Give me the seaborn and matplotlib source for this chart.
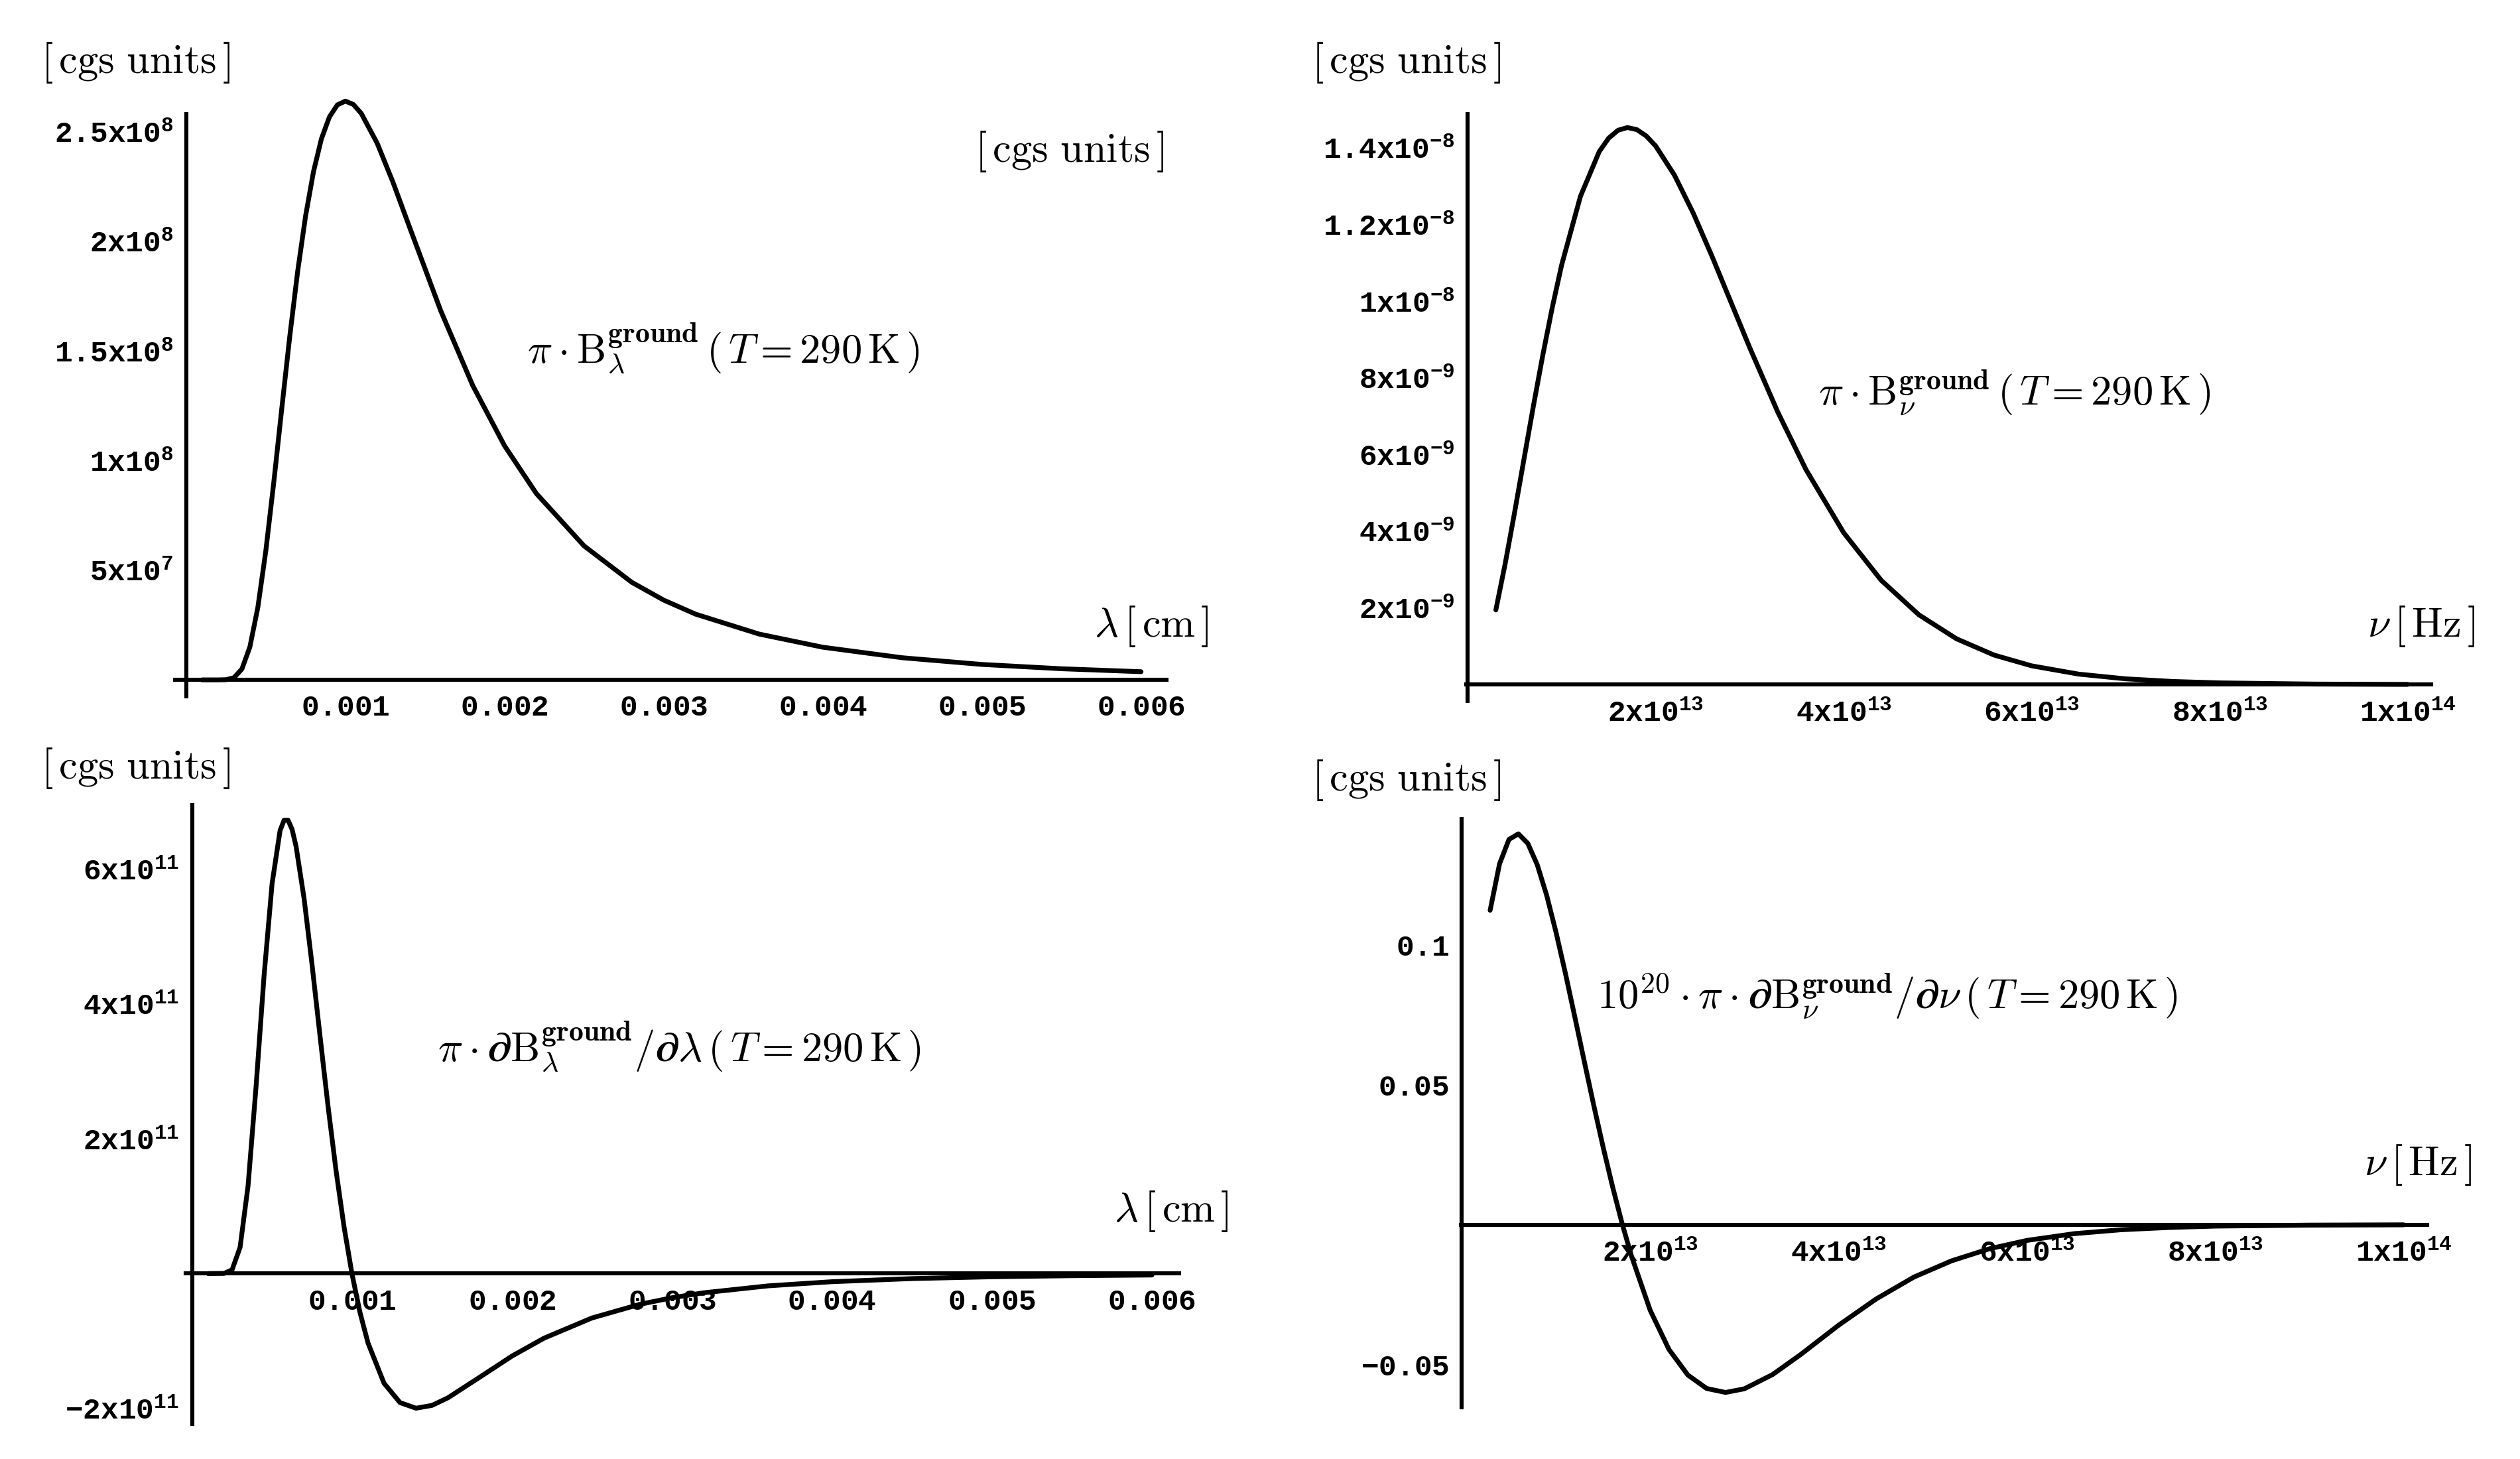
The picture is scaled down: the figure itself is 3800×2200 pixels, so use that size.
import matplotlib
matplotlib.use("Agg")
import matplotlib.pyplot as plt
import numpy as np
import pandas as pd
import seaborn as sns
from matplotlib.ticker import FixedLocator

# ---------------- data ----------------
# Panel 1: pi*B_lambda (T=290 K) vs wavelength [cm]
lam_1 = [0.0001, 0.0002, 0.00025, 0.0003, 0.00035, 0.0004, 0.00045, 0.0005, 0.00055,
         0.0006, 0.00065, 0.0007, 0.00075, 0.0008, 0.00085, 0.0009, 0.00095, 0.001,
         0.00105, 0.0011, 0.0012, 0.0013, 0.0014, 0.0016, 0.0018, 0.002, 0.0022,
         0.0025, 0.0028, 0.003, 0.0032, 0.0036, 0.004, 0.0045, 0.005, 0.0055, 0.006]
B_lam = [0.0, 2.0e3, 9.2e4, 1.01e6, 4.97e6, 1.50e7, 3.30e7, 5.87e7, 8.99e7,
         1.234e8, 1.562e8, 1.861e8, 2.115e8, 2.318e8, 2.468e8, 2.567e8, 2.622e8, 2.639e8,
         2.624e8, 2.583e8, 2.447e8, 2.268e8, 2.071e8, 1.682e8, 1.343e8, 1.068e8, 8.50e7,
         6.11e7, 4.45e7, 3.64e7, 3.00e7, 2.09e7, 1.49e7, 1.01e7, 7.05e6, 5.08e6, 3.74e6]

# Panel 2: pi*B_nu (T=290 K) vs frequency [Hz]
nu_2 = [0.3e13, 0.4e13, 0.5e13, 0.6e13, 0.7e13, 0.8e13, 0.9e13, 1.0e13, 1.2e13, 1.4e13,
        1.5e13, 1.6e13, 1.7e13, 1.8e13, 1.9e13, 2.0e13, 2.2e13, 2.4e13, 2.6e13, 2.8e13,
        3.0e13, 3.3e13, 3.6e13, 4.0e13, 4.4e13, 4.8e13, 5.2e13, 5.6e13, 6.0e13, 6.5e13,
        7.0e13, 7.5e13, 8.0e13, 9.0e13, 1.0e14]
B_nu = [1.945e-9, 3.159e-9, 4.497e-9, 5.889e-9, 7.272e-9, 8.599e-9, 9.832e-9, 1.0944e-8,
        1.2735e-8, 1.3901e-8, 1.4252e-8, 1.4458e-8, 1.4528e-8, 1.4474e-8, 1.4309e-8,
        1.4048e-8, 1.3287e-8, 1.2296e-8, 1.1168e-8, 9.979e-9, 8.791e-9, 7.103e-9,
        5.603e-9, 3.960e-9, 2.717e-9, 1.819e-9, 1.193e-9, 7.68e-10, 4.87e-10, 2.71e-10,
        1.48e-10, 7.95e-11, 4.22e-11, 1.15e-11, 3.0e-12]

# Panel 3: pi*dB_lambda/dlambda (T=290 K)
lam_3 = [0.0001, 0.0002, 0.00025, 0.0003, 0.00035, 0.0004, 0.00045, 0.0005, 0.00055,
         0.000575, 0.0006, 0.000625, 0.00065, 0.0007, 0.00075, 0.0008, 0.00085, 0.0009,
         0.00095, 0.001, 0.00105, 0.0011, 0.0012, 0.0013, 0.0014, 0.0015, 0.0016, 0.0018,
         0.002, 0.0022, 0.0025, 0.0028, 0.003, 0.0032, 0.0036, 0.004, 0.0045, 0.005,
         0.0055, 0.006]
dB_lam = [0.0, 0.002e11, 0.055e11, 0.389e11, 1.304e11, 2.776e11, 4.421e11, 5.783e11,
          6.572e11, 6.726e11, 6.726e11, 6.591e11, 6.338e11, 5.567e11, 4.581e11, 3.519e11,
          2.480e11, 1.526e11, 0.692e11, -0.010e11, -0.581e11, -1.032e11, -1.628e11,
          -1.915e11, -1.998e11, -1.956e11, -1.843e11, -1.535e11, -1.224e11, -0.959e11,
          -0.659e11, -0.456e11, -0.359e11, -0.285e11, -0.183e11, -0.121e11, -0.075e11,
          -0.048e11, -0.032e11, -0.022e11]

# Panel 4: 1e20 * pi*dB_nu/dnu (T=290 K)
nu_4 = [0.3e13, 0.4e13, 0.5e13, 0.6e13, 0.7e13, 0.8e13, 0.9e13, 1.0e13, 1.1e13, 1.2e13,
        1.3e13, 1.4e13, 1.5e13, 1.6e13, 1.7e13, 1.8e13, 2.0e13, 2.2e13, 2.4e13, 2.6e13,
        2.8e13, 3.0e13, 3.3e13, 3.6e13, 4.0e13, 4.4e13, 4.8e13, 5.2e13, 5.6e13, 6.0e13,
        6.5e13, 7.0e13, 7.5e13, 8.0e13, 9.0e13, 1.0e14]
dB_nu = [0.1123, 0.1289, 0.1376, 0.1396, 0.1362, 0.1286, 0.1177, 0.1044, 0.0897, 0.0741,
         0.0583, 0.0427, 0.0277, 0.0136, 0.0006, -0.0111, -0.0306, -0.0446, -0.0537,
         -0.0585, -0.0599, -0.0586, -0.0535, -0.0463, -0.0359, -0.0265, -0.0187, -0.0129,
         -0.0086, -0.0056, -0.0032, -0.0018, -0.0010, -0.0005, -0.00015, -0.00004]

# tick values / labels
x1_ticks = [0.001, 0.002, 0.003, 0.004, 0.005, 0.006]
x1_labels = ["0.001", "0.002", "0.003", "0.004", "0.005", "0.006"]
y1_ticks = [5e7, 1e8, 1.5e8, 2e8, 2.5e8]
y1_labels = ["5x10^{7}", "1x10^{8}", "1.5x10^{8}", "2x10^{8}", "2.5x10^{8}"]

x2_ticks = [2e13, 4e13, 6e13, 8e13, 1e14]
x2_labels = ["2x10^{13}", "4x10^{13}", "6x10^{13}", "8x10^{13}", "1x10^{14}"]
y2_ticks = [2e-9, 4e-9, 6e-9, 8e-9, 1e-8, 1.2e-8, 1.4e-8]
y2_labels = ["2x10^{-9}", "4x10^{-9}", "6x10^{-9}", "8x10^{-9}", "1x10^{-8}",
             "1.2x10^{-8}", "1.4x10^{-8}"]

y3_ticks = [-2e11, 2e11, 4e11, 6e11]
y3_labels = ["-2x10^{11}", "2x10^{11}", "4x10^{11}", "6x10^{11}"]

y4_ticks = [-0.05, 0.05, 0.1]
y4_labels = ["-0.05", "0.05", "0.1"]

# ---------------- style ----------------
sns.set_style("white")
plt.rcParams.update({
    "font.family": ["Liberation Mono", "DejaVu Sans"],
    "font.weight": "bold",
    "mathtext.fontset": "custom",
    "mathtext.rm": "Liberation Mono:bold",
    "mathtext.bf": "Liberation Mono:bold",
    "mathtext.it": "Liberation Mono:bold",
    "mathtext.sf": "Liberation Mono:bold",
    "axes.edgecolor": "black",
    "xtick.color": "black",
    "ytick.color": "black",
})

W, H = 3800, 2200
fig = plt.figure(figsize=(19, 11), dpi=200)
fig.patch.set_facecolor("white")

TICK_FS = 16
TXT_FS = 22.5


def px_box(left, top, right, bottom):
    return [left / W, 1 - bottom / H, (right - left) / W, (bottom - top) / H]


def minor_positions(lo, hi, step, exclude):
    vals = []
    k = int(np.ceil(lo / step))
    while k * step <= hi + 1e-12 * abs(hi):
        v = k * step
        if abs(v) > step * 1e-6 and all(abs(v - e) > step * 1e-3 for e in exclude):
            vals.append(v)
        k += 1
    return vals


def style_axes(ax, xlim, ylim, xt, xl, xstep, yt, yl, ystep):
    ax.set_xlim(*xlim)
    ax.set_ylim(*ylim)
    ax.set_facecolor("white")
    ax.grid(False)
    for s in ("top", "right"):
        ax.spines[s].set_visible(False)
    ax.spines["left"].set_position(("data", 0))
    ax.spines["bottom"].set_position(("data", 0))
    for s in ("left", "bottom"):
        ax.spines[s].set_linewidth(2.2)
        ax.spines[s].set_color("black")
    ax.xaxis.set_major_locator(FixedLocator(xt))
    ax.yaxis.set_major_locator(FixedLocator(yt))
    ax.set_xticklabels([r"$\mathbf{%s}$" % s for s in xl])
    ax.set_yticklabels([r"$\mathbf{%s}$" % s for s in yl])
    ax.xaxis.set_minor_locator(FixedLocator(minor_positions(xlim[0], xlim[1], xstep, xt)))
    ax.yaxis.set_minor_locator(FixedLocator(minor_positions(ylim[0], ylim[1], ystep, yt)))
    ax.tick_params(axis="both", which="both", direction="in", width=1.5,
                   labelsize=TICK_FS)
    ax.tick_params(axis="y", which="major", length=4.0, pad=7)
    ax.tick_params(axis="y", which="minor", length=3.2)
    ax.tick_params(axis="x", which="major", length=3.6, pad=8)
    ax.tick_params(axis="x", which="minor", length=2.3)
    ax.set_xlabel("")
    ax.set_ylabel("")


def curve(ax, x, y):
    df = pd.DataFrame({"x": x, "y": y})
    sns.lineplot(data=df, x="x", y="y", ax=ax, color="black", linewidth=2.6,
                 sort=False, estimator=None, clip_on=False)


def ftext(xpx, ypx, s):
    fig.text(xpx / W, 1 - ypx / H, s, ha="left", va="center", fontsize=TXT_FS,
             math_fontfamily="cm", color="black")


# Panel 1
ax1 = fig.add_axes(px_box(264, 172, 1759, 1050))
curve(ax1, lam_1, B_lam)
style_axes(ax1, (-0.00007, 0.00616), (-0.75e7, 2.58e8), x1_ticks, x1_labels, 0.0002,
           y1_ticks, y1_labels, 1e7)

# Panel 2
ax2 = fig.add_axes(px_box(2211, 172, 3666, 1057))
curve(ax2, nu_2, B_nu)
style_axes(ax2, (-0.015e13, 1.025e14), (-0.43e-9, 1.488e-8), x2_ticks, x2_labels, 0.5e13,
           y2_ticks, y2_labels, 5e-10)

# Panel 3
ax3 = fig.add_axes(px_box(280, 1214, 1778, 2147))
curve(ax3, lam_3, dB_lam)
style_axes(ax3, (-0.00004, 0.00617), (-2.23e11, 6.95e11), x1_ticks, x1_labels, 0.0002,
           y3_ticks, y3_labels, 5e10)

# Panel 4
ax4 = fig.add_axes(px_box(2203, 1235, 3660, 2122))
curve(ax4, nu_4, dB_nu)
style_axes(ax4, (-0.01e13, 1.025e14), (-0.0652, 0.1449), x2_ticks, x2_labels, 0.5e13,
           y4_ticks, y4_labels, 0.01)

# annotations
cgs = r"$[\,\mathrm{cgs\ units}\,]$"
ftext(62, 94, cgs)
ftext(1470, 229, cgs)
ftext(1978, 94, cgs)
ftext(62, 1158, cgs)
ftext(1978, 1176, cgs)

ftext(795, 525, r"$\pi\cdot\mathrm{B}_{\lambda}^{\mathbf{ground}}\,(\,T=290\,\mathrm{K}\,)$")
ftext(2742, 593, r"$\pi\cdot\mathrm{B}_{\nu}^{\mathbf{ground}}\,(\,T=290\,\mathrm{K}\,)$")
ftext(660, 1578, r"$\pi\cdot\partial\mathrm{B}_{\lambda}^{\mathbf{ground}}/\partial\lambda\,(\,T=290\,\mathrm{K}\,)$")
ftext(2408, 1503, r"$10^{20}\cdot\pi\cdot\partial\mathrm{B}_{\nu}^{\mathbf{ground}}/\partial\nu\,(\,T=290\,\mathrm{K}\,)$")

ftext(1650, 944, r"$\lambda\,[\,\mathrm{cm}\,]$")
ftext(3570, 945, r"$\nu\,[\,\mathrm{Hz}\,]$")
ftext(1680, 1827, r"$\lambda\,[\,\mathrm{cm}\,]$")
ftext(3565, 1757, r"$\nu\,[\,\mathrm{Hz}\,]$")

fig.savefig("out.png", dpi=200, facecolor="white")
